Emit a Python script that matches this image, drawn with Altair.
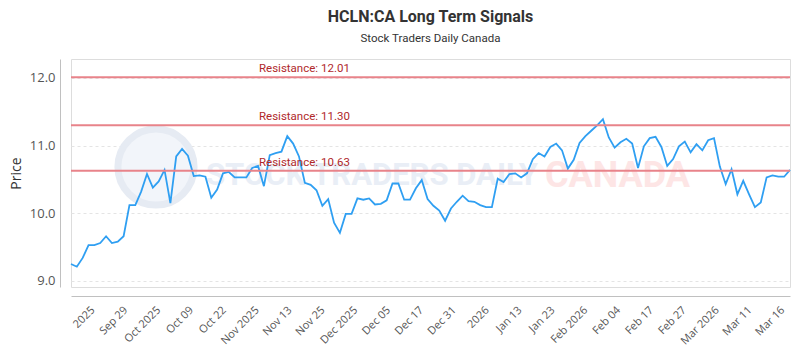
import json
import altair as alt
import numpy as np
import pandas as pd

# Daily closing prices, oldest first
prices = [
    9.25, 9.21, 9.34, 9.53, 9.53, 9.56, 9.66, 9.56, 9.58, 9.66,
    10.12, 10.12, 10.32, 10.58, 10.38, 10.47, 10.64, 10.15, 10.84, 10.95,
    10.85, 10.55, 10.56, 10.54, 10.23, 10.35, 10.59, 10.61, 10.53, 10.53,
    10.53, 10.67, 10.70, 10.40, 10.86, 10.89, 10.91, 11.14, 11.03, 10.84,
    10.45, 10.42, 10.34, 10.11, 10.21, 9.86, 9.71, 9.99, 9.99, 10.22,
    10.20, 10.22, 10.13, 10.14, 10.19, 10.44, 10.44, 10.20, 10.20, 10.37,
    10.49, 10.21, 10.11, 10.04, 9.89, 10.07, 10.17, 10.26, 10.18, 10.17,
    10.12, 10.09, 10.09, 10.51, 10.46, 10.58, 10.59, 10.53, 10.59, 10.80,
    10.89, 10.84, 10.98, 11.03, 10.93, 10.66, 10.79, 11.04, 11.14, 11.22,
    11.30, 11.39, 11.12, 10.97, 11.05, 11.10, 11.03, 10.67, 10.99, 11.11,
    11.13, 10.98, 10.70, 10.80, 10.99, 11.06, 10.90, 11.02, 10.93, 11.08,
    11.11, 10.69, 10.43, 10.65, 10.28, 10.48, 10.28, 10.09, 10.16, 10.53,
    10.56, 10.54, 10.54, 10.64,
]

tick_labels = [
    "2025", "Sep 29", "Oct 2025", "Oct 09", "Oct 22", "Nov 2025", "Nov 13",
    "Nov 25", "Dec 2025", "Dec 05", "Dec 17", "Dec 31", "2026", "Jan 13",
    "Jan 23", "Feb 2026", "Feb 04", "Feb 17", "Feb 27", "Mar 2026", "Mar 11",
    "Mar 16",
]

resistance_levels = [12.01, 11.30, 10.63]

n = len(prices)
series = pd.DataFrame({"idx": np.arange(n), "price": prices})
resist = pd.DataFrame({
    "level": resistance_levels,
    "label": [f"Resistance: {v:.2f}" for v in resistance_levels],
})
one = pd.DataFrame({"k": [0]})

# evenly spaced date ticks along the trading-day index
tick_start, tick_step = 3.0, 5.62
tick_pos = [round(tick_start + tick_step * k, 3) for k in range(len(tick_labels))]
label_expr = f"{json.dumps(tick_labels)}[round((datum.value - {tick_start}) / {tick_step})]"

FONT = "Open Sans"
x_scale = alt.Scale(domain=[0, n - 1], nice=False, zero=False)
y_scale = alt.Scale(domain=[8.91, 12.28], nice=False, zero=False)

x_axis = alt.Axis(
    values=tick_pos, labelExpr=label_expr, title=None, orient="bottom",
    offset=9, grid=False, ticks=False, domainColor="#c0c0c0",
    labelAngle=-45, labelAlign="right", labelBaseline="top", labelPadding=8,
    labelFont=FONT, labelFontSize=11, labelColor="#555555",
    labelOverlap=False, labelBound=False, labelFlush=False,
)
y_axis = alt.Axis(
    values=[9.0, 9.5, 10.0, 10.5, 11.0, 11.5, 12.0], format=".1f",
    title="Price", offset=11, ticks=False, domainColor="#c0c0c0",
    grid=True, gridColor="#e4e4e4", gridDash=[3, 3],
    labelFont=FONT, labelFontSize=13, labelColor="#555555", labelPadding=5,
    titleFont=FONT, titleFontSize=14, titleFontWeight="normal",
    titleColor="#333333", titlePadding=6,
)

# faint brand watermark behind the data
logo = alt.Chart(one).mark_point(
    shape="circle", filled=True, color="#f2f5fa", size=5800, opacity=1,
    stroke="#e6ebf3", strokeWidth=7,
).encode(x=alt.value(85), y=alt.value(108))

wm_left = alt.Chart(one).mark_text(
    text="STOCK TRADERS DAILY", align="left", baseline="middle",
    font="Roboto", fontSize=31, fontWeight="bold", color="#e9eef6",
).encode(x=alt.value(135), y=alt.value(117))

wm_right = alt.Chart(one).mark_text(
    text="CANADA", align="left", baseline="middle",
    font="Roboto", fontSize=36, fontWeight="bold", color="#fde5e5",
).encode(x=alt.value(474), y=alt.value(117))

line = alt.Chart(series).mark_line(color="#2f9ff2", strokeWidth=1.8).encode(
    x=alt.X("idx:Q", scale=x_scale, axis=x_axis),
    y=alt.Y("price:Q", scale=y_scale, axis=y_axis),
)

rules = alt.Chart(resist).mark_rule(color="#e8838a", strokeWidth=2).encode(
    y=alt.Y("level:Q", scale=y_scale),
)

rule_text = alt.Chart(resist).mark_text(
    align="left", baseline="bottom", dy=-3, font="Roboto", fontSize=11.5,
    color="#b0282b",
).encode(
    x=alt.value(188),
    y=alt.Y("level:Q", scale=y_scale),
    text="label:N",
)

chart = alt.layer(logo, wm_left, wm_right, line, rules, rule_text).properties(
    width=719,
    height=228,
    autosize=alt.AutoSizeParams(type="none"),
    padding={"left": 71, "top": 59, "right": 10, "bottom": 63},
    title=alt.TitleParams(
        "HCLN:CA Long Term Signals",
        subtitle="Stock Traders Daily Canada",
        anchor="middle", font="Roboto", fontSize=16, fontWeight="bold",
        color="#333333", subtitleFont="Roboto", subtitleFontSize=11.5,
        subtitleColor="#333333", offset=15, subtitlePadding=8,
    ),
).configure_view(stroke="#808080", strokeWidth=1.5).configure(background="white")

chart.save("out.html", embed_options={"renderer": "svg", "actions": False})
